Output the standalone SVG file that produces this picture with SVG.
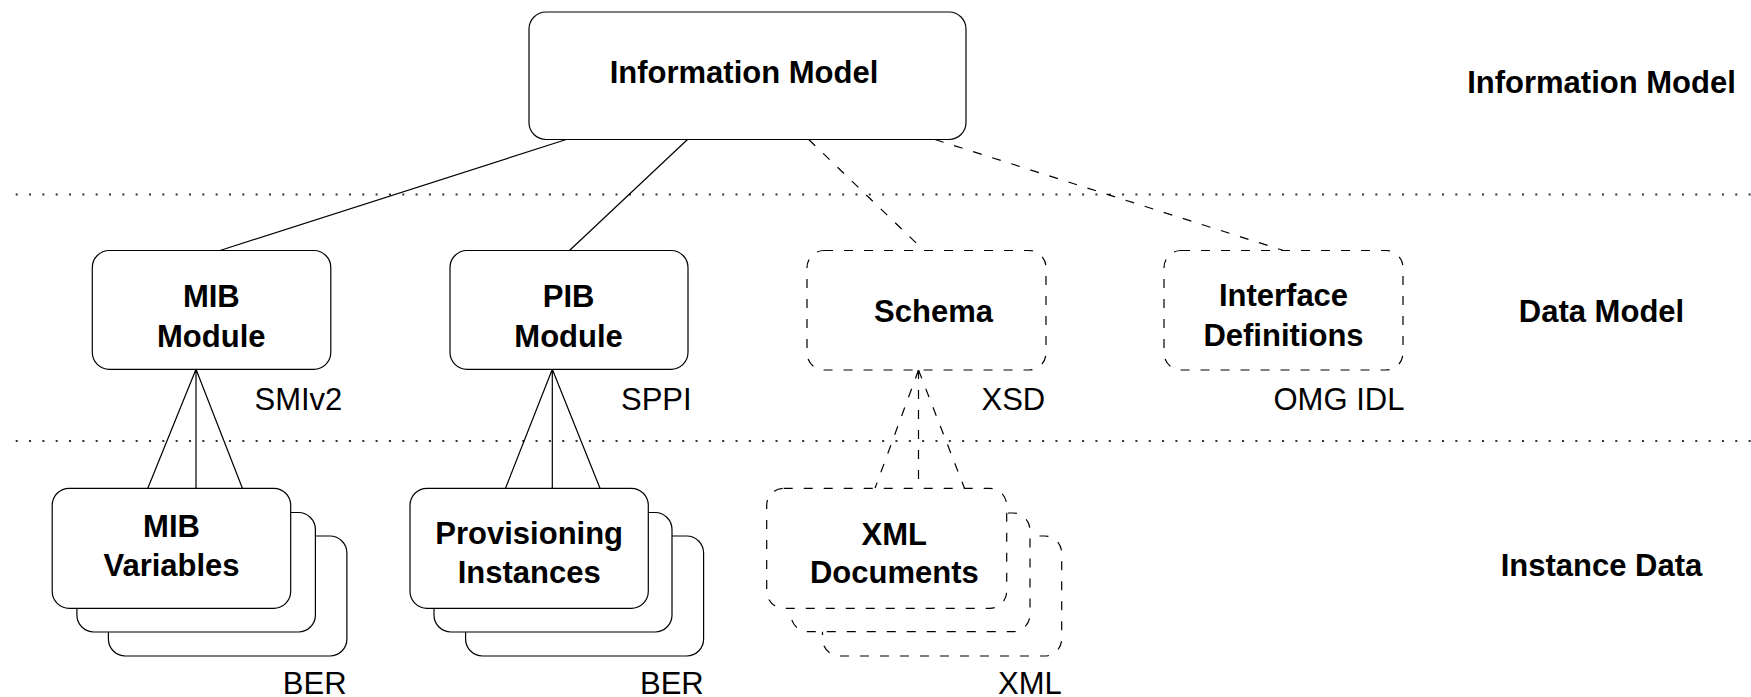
<svg xmlns="http://www.w3.org/2000/svg" width="1751" height="697" viewBox="0 0 1751 697">
  <style>
    .box { fill: #fff; stroke: #000; stroke-width: 1.2; }
    .dashed { stroke-dasharray: 9 11; }
    .line { fill: none; stroke: #000; stroke-width: 1.2; }
    .sep { fill: none; stroke: #333; stroke-width: 2; stroke-dasharray: 2 11.33; }
    .title { font-family: "Liberation Sans", Arial, Helvetica, sans-serif; font-size: 31px; font-weight: bold; text-anchor: middle; fill: #000; }
    .note { font-family: "Liberation Sans", Arial, Helvetica, sans-serif; font-size: 31px; fill: #000; }
  </style>

  <!-- layer separators -->
  <g id="separators">
    <line class="sep" x1="15.7" y1="194.5" x2="1751" y2="194.5"/>
    <line class="sep" x1="15.7" y1="441" x2="1751" y2="441"/>
  </g>

  <!-- layer names -->
  <g id="layer-labels">
    <text class="title" x="1601.5" y="93">Information Model</text>
    <text class="title" x="1601.5" y="322">Data Model</text>
    <text class="title" x="1601.5" y="576">Instance Data</text>
  </g>

  <!-- connectors -->
  <g id="connectors">
    <line class="line" x1="566.3" y1="139.5" x2="220" y2="250.5"/>
    <line class="line" x1="687.5" y1="139.5" x2="569.5" y2="250.5"/>
    <line class="line dashed" x1="808.7" y1="139.5" x2="924" y2="250.5"/>
    <line class="line dashed" x1="935" y1="139.5" x2="1283.5" y2="250.5"/>

    <path class="line" d="M196 369.3 L147.8 488.3 M196 369.3 L196 488.3 M196 369.3 L242.4 488.3"/>
    <path class="line" d="M552.3 369.3 L505.5 488.3 M552.3 369.3 L552.3 488.3 M552.3 369.3 L600 488.3"/>
    <path class="line dashed" d="M918.5 370 L875 488.3"/>
    <path class="line dashed" d="M918.5 370 L918.5 488.3"/>
    <path class="line dashed" d="M918.5 370 L964.5 488.3"/>
  </g>

  <!-- information model -->
  <g id="information-model">
    <rect class="box" x="529" y="12" width="437" height="127.5" rx="17"/>
    <text class="title" x="744" y="83.3">Information Model</text>
  </g>

  <!-- data models -->
  <g id="mib-module">
    <rect class="box" x="92.3" y="250.5" width="238.5" height="118.8" rx="17"/>
    <text class="title" x="211.3" y="306.5">MIB</text>
    <text class="title" x="211.3" y="346.7">Module</text>
    <text class="note" x="254.5" y="410">SMIv2</text>
  </g>

  <g id="pib-module">
    <rect class="box" x="450" y="250.5" width="238" height="118.8" rx="17"/>
    <text class="title" x="568.6" y="306.5">PIB</text>
    <text class="title" x="568.6" y="346.7">Module</text>
    <text class="note" x="621" y="410">SPPI</text>
  </g>

  <g id="schema">
    <rect class="box dashed" x="807" y="250.5" width="239" height="119.5" rx="17"/>
    <text class="title" x="933.5" y="321.7">Schema</text>
    <text class="note" x="981.5" y="410">XSD</text>
  </g>

  <g id="interface-definitions">
    <rect class="box dashed" x="1164" y="250.5" width="239" height="119.5" rx="17"/>
    <text class="title" x="1283.5" y="305.5">Interface</text>
    <text class="title" x="1283.5" y="345.5">Definitions</text>
    <text class="note" x="1273.5" y="410">OMG IDL</text>
  </g>

  <!-- instance data (stacks of three, drawn back to front) -->
  <g id="mib-variables">
    <rect class="box" x="108.4" y="536" width="238.5" height="120" rx="17"/>
    <rect class="box" x="76.9" y="512.5" width="238.5" height="119.5" rx="17"/>
    <rect class="box" x="52.2" y="488.3" width="238.5" height="120" rx="17"/>
    <text class="title" x="171.5" y="537">MIB</text>
    <text class="title" x="171.5" y="576">Variables</text>
    <text class="note" x="282.8" y="694">BER</text>
  </g>

  <g id="provisioning-instances">
    <rect class="box" x="465.6" y="536" width="238" height="120" rx="17"/>
    <rect class="box" x="434" y="512.5" width="238" height="119.5" rx="17"/>
    <rect class="box" x="410" y="488.3" width="238.3" height="120" rx="17"/>
    <text class="title" x="529.2" y="544.3">Provisioning</text>
    <text class="title" x="529.2" y="583">Instances</text>
    <text class="note" x="640" y="694">BER</text>
  </g>

  <g id="xml-documents">
    <rect class="box dashed" x="822.5" y="536" width="239.2" height="120" rx="17"/>
    <rect class="box dashed" x="791" y="513" width="239" height="118.7" rx="17"/>
    <rect class="box dashed" x="766.7" y="488.3" width="240" height="120" rx="17"/>
    <text class="title" x="894.3" y="545">XML</text>
    <text class="title" x="894.3" y="583.3">Documents</text>
    <text class="note" x="998" y="694">XML</text>
  </g>
</svg>
